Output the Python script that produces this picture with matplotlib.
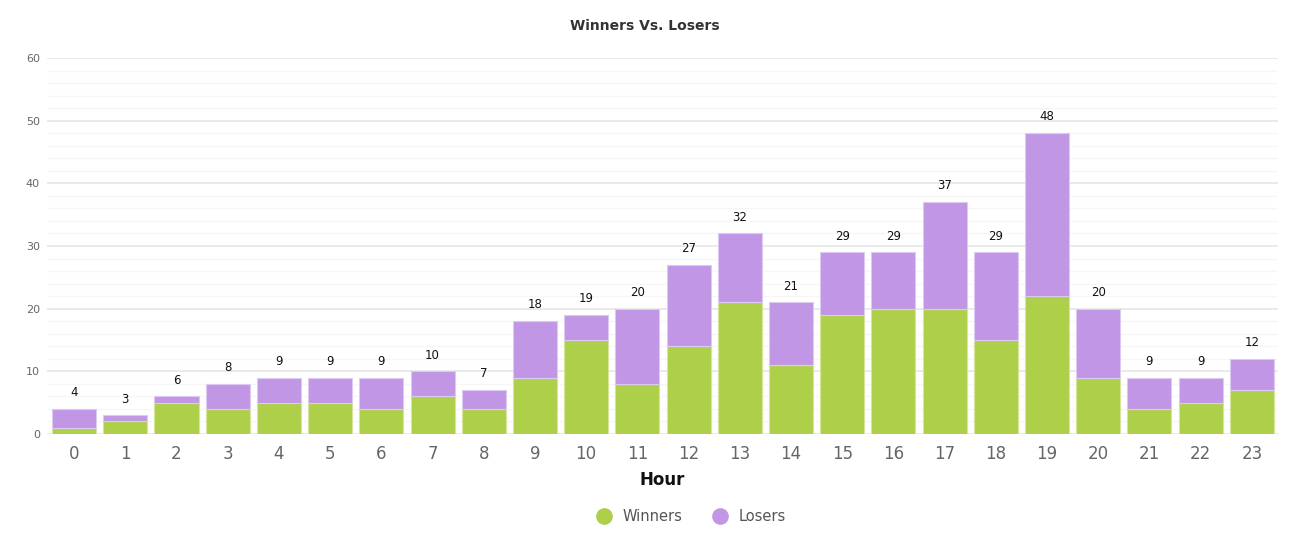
import matplotlib
matplotlib.use("Agg")
import matplotlib.pyplot as plt
from matplotlib.lines import Line2D
import numpy as np

hours = [str(h) for h in range(24)]
winners = [1, 2, 5, 4, 5, 5, 4, 6, 4, 9, 15, 8, 14, 21, 11, 19, 20, 20, 15, 22, 9, 4, 5, 7]
totals = [4, 3, 6, 8, 9, 9, 9, 10, 7, 18, 19, 20, 27, 32, 21, 29, 29, 37, 29, 48, 20, 9, 9, 12]
losers = [t - w for t, w in zip(totals, winners)]

green = "#AECF4A"
purple = "#C197E5"

plt.rcParams['font.family'] = ['DejaVu Sans']
fig = plt.figure(figsize=(12.9, 5.51), dpi=100)
ax = fig.add_axes([0.0364, 0.2123, 0.9543, 0.6824])

x = np.arange(len(hours))
ax.bar(x, winners, width=0.86, color=green, edgecolor="#d4e69a", linewidth=0.8, zorder=3)
ax.bar(x, losers, bottom=winners, width=0.86, color=purple, edgecolor="#dccaf2", linewidth=0.8, zorder=3)

for xi, t in zip(x, totals):
    ax.annotate(str(t), (xi, t), xytext=(0, 7), textcoords="offset points",
                ha="center", va="bottom", fontsize=8.5, color="#111111")

ax.set_xlim(-0.53, 23.51)
ax.set_ylim(0, 60)
ax.set_yticks(range(0, 61, 10))
ax.set_yticks(range(0, 61, 2), minor=True)
ax.grid(axis="y", which="major", color="#e6e6e6", linewidth=1.2, zorder=0)
ax.grid(axis="y", which="minor", color="#f6f6f6", linewidth=0.9, zorder=0)
ax.set_axisbelow(True)
for s in ax.spines.values():
    s.set_visible(False)
ax.tick_params(axis="y", which="both", length=0, labelsize=8, labelcolor="#666666", pad=5)
ax.tick_params(axis="x", length=0, labelsize=12, labelcolor="#666666", pad=8)
ax.set_xticks(x)
ax.set_xticklabels(hours)
ax.set_xlabel("Hour", fontsize=12, fontweight="bold", color="#111111", labelpad=6)

fig.text(0.5, 0.953, "Winners Vs. Losers", ha="center", va="center",
         fontsize=10, fontweight="bold", color="#333333")

handles = [Line2D([], [], marker="o", linestyle="none", markersize=11, color=green, label="Winners"),
           Line2D([], [], marker="o", linestyle="none", markersize=11, color=purple, label="Losers")]
fig.legend(handles=handles, loc="center", bbox_to_anchor=(0.533, 0.063), ncol=2, frameon=False,
           fontsize=10.5, labelcolor="#555555", handletextpad=0.25, columnspacing=1.6)

fig.savefig("out.png", dpi=100, facecolor="white")
